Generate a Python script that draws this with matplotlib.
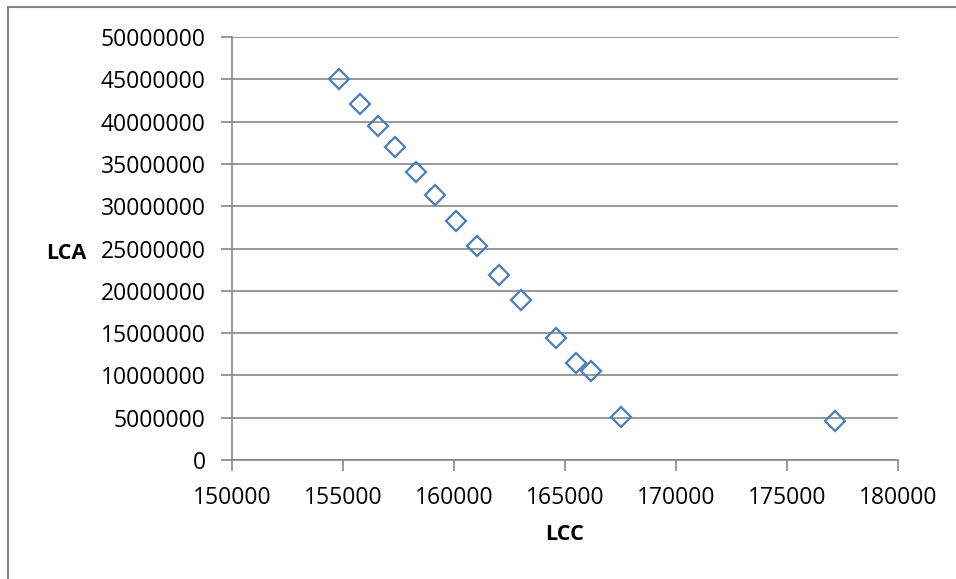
import matplotlib.pyplot as plt
from matplotlib.patches import Rectangle

# LCC vs LCA values
lcc = [154820, 155770, 156580, 157340, 158290, 159140, 160090, 161040,
       162030, 163020, 164600, 165500, 166170, 167520, 177160]
lca = [45000000, 42100000, 39500000, 37000000, 34000000, 31300000, 28250000,
       25300000, 21900000, 18900000, 14400000, 11500000, 10500000, 5100000,
       4600000]

x_ticks = [150000, 155000, 160000, 165000, 170000, 175000, 180000]
y_ticks = list(range(0, 50000001, 5000000))

plt.rcParams['font.family'] = ['Open Sans', 'DejaVu Sans']
grey = '#868686'

fig = plt.figure(figsize=(9.56, 5.79), dpi=100)
ax = fig.add_axes([232/956, 1 - 460/579, (898-232)/956, (460-37)/579])

# outer chart frame
fig.patches.append(Rectangle((8/956, -0.05), 1.0, 1 - 7/579 + 0.05,
                             transform=fig.transFigure, fill=False,
                             edgecolor=grey, linewidth=1.5))

ax.plot(lcc, lca, linestyle='none', marker='D', markersize=10,
        markerfacecolor='none', markeredgecolor='#4A7EBB', markeredgewidth=1.6)

ax.set_xlim(150000, 180000)
ax.set_ylim(0, 50000000)
ax.set_xticks(x_ticks)
ax.set_yticks(y_ticks)
ax.set_xticklabels([str(v) for v in x_ticks])
ax.set_yticklabels([str(v) for v in y_ticks])
ax.tick_params(axis='both', labelsize=16.5, color=grey, length=8, width=1.2,
               direction='out')
ax.tick_params(axis='y', pad=11)
ax.tick_params(axis='x', pad=11)

ax.yaxis.grid(True, color=grey, linewidth=1.2)
ax.set_axisbelow(True)
for s in ['top', 'right']:
    ax.spines[s].set_visible(False)
for s in ['left', 'bottom']:
    ax.spines[s].set_color(grey)
    ax.spines[s].set_linewidth(1.2)

fig.text(66/956, 1 - 253/579, 'LCA', fontsize=15.5, fontweight='bold',
         ha='center', va='center')
fig.text(565/956, 1 - 535/579, 'LCC', fontsize=15.5, fontweight='bold',
         ha='center', va='center')

fig.savefig('out.png', dpi=100)
